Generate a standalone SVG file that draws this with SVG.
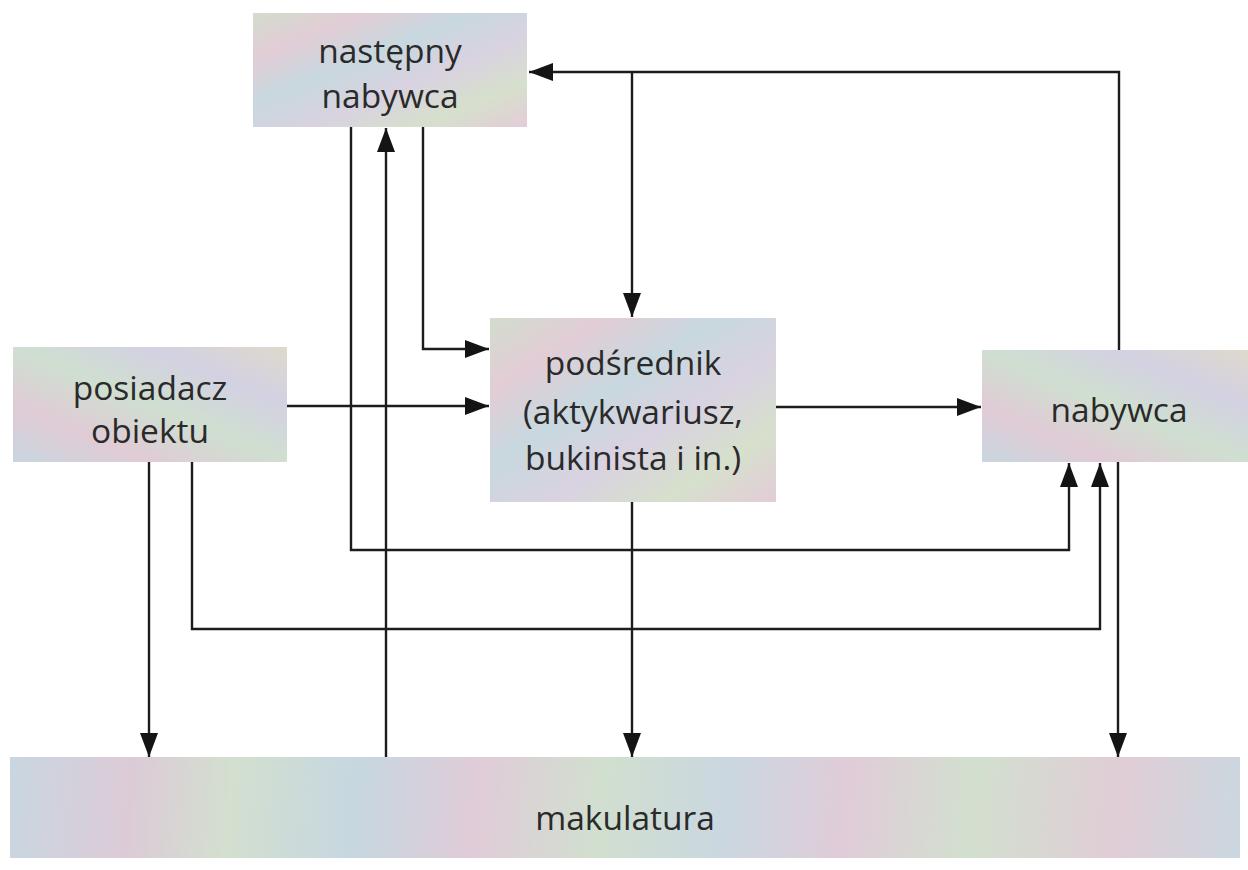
<svg xmlns="http://www.w3.org/2000/svg" width="1248" height="870" viewBox="0 0 1248 870">
<style>
.box{stroke:none}
.lbl{font-family:"Open Sans","Noto Sans","DejaVu Sans",sans-serif;font-size:33.5px;fill:#2a2a2a;text-anchor:middle}
.con{fill:none;stroke:#1c1c1c;stroke-width:2.4}
.arr{marker-end:url(#ah)}
</style>
<defs>
<marker id="ah" viewBox="0 0 24 18" refX="24" refY="9" markerWidth="24" markerHeight="18" markerUnits="userSpaceOnUse" orient="auto">
<path d="M0,0 L24,9 L0,18 Z" fill="#141414"/>
</marker>
<linearGradient id="g1" x1="0" y1="0" x2="1" y2="1">
<stop offset="0" stop-color="#d2dccd"/>
<stop offset="0.2" stop-color="#e2cdd6"/>
<stop offset="0.4" stop-color="#c8d8df"/>
<stop offset="0.6" stop-color="#d9d2e1"/>
<stop offset="0.8" stop-color="#d6e0cc"/>
<stop offset="1" stop-color="#e3ccd8"/>
</linearGradient>
<linearGradient id="g2" x1="0" y1="1" x2="1" y2="0">
<stop offset="0" stop-color="#c8d6df"/>
<stop offset="0.25" stop-color="#e0cbd6"/>
<stop offset="0.5" stop-color="#cfdfd0"/>
<stop offset="0.75" stop-color="#d3d1e2"/>
<stop offset="1" stop-color="#dfd9cc"/>
</linearGradient>
<linearGradient id="g3" gradientUnits="userSpaceOnUse" x1="10" y1="760" x2="1240" y2="860">
<stop offset="0" stop-color="#c9d6e0"/>
<stop offset="0.1" stop-color="#dccbd7"/>
<stop offset="0.18" stop-color="#d3dfcf"/>
<stop offset="0.28" stop-color="#c6d7e0"/>
<stop offset="0.38" stop-color="#e0ccd8"/>
<stop offset="0.48" stop-color="#d1dfcf"/>
<stop offset="0.58" stop-color="#cad7e0"/>
<stop offset="0.68" stop-color="#e0ccd8"/>
<stop offset="0.78" stop-color="#d2dfcf"/>
<stop offset="0.9" stop-color="#e0cdd6"/>
<stop offset="1" stop-color="#cbd7df"/>
</linearGradient>
</defs>
<g id="nastepny-nabywca">
<rect class="box" x="253" y="13" width="274" height="114" fill="url(#g1)"/>
<text class="lbl" x="390" y="63">następny</text>
<text class="lbl" x="390" y="108">nabywca</text>
</g>
<g id="posiadacz-obiektu">
<rect class="box" x="13" y="347" width="274" height="115" fill="url(#g2)"/>
<text class="lbl" x="150" y="400">posiadacz</text>
<text class="lbl" x="150" y="443">obiektu</text>
</g>
<g id="posrednik">
<rect class="box" x="490" y="318" width="286" height="184" fill="url(#g1)"/>
<text class="lbl" x="633" y="375">podśrednik</text>
<text class="lbl" x="633" y="424">(aktykwariusz,</text>
<text class="lbl" x="633" y="470">bukinista i in.)</text>
</g>
<g id="nabywca">
<rect class="box" x="982" y="350" width="266" height="112" fill="url(#g2)"/>
<text class="lbl" x="1119" y="422">nabywca</text>
</g>
<g id="makulatura">
<rect class="box" x="10" y="757" width="1230" height="101" fill="url(#g3)"/>
<text class="lbl" x="625" y="830">makulatura</text>
</g>
<g id="connectors">
<path class="con arr" d="M1119,350 V72 H529"/>
<path class="con arr" d="M632,72 V317"/>
<path class="con arr" d="M423,127 V349 H489"/>
<path class="con arr" d="M287,406 H489"/>
<path class="con arr" d="M776,407 H981"/>
<path class="con arr" d="M351,127 V550 H1069 V463"/>
<path class="con arr" d="M192,462 V629 H1100 V463"/>
<path class="con arr" d="M149,462 V757"/>
<path class="con arr" d="M386,757 V128"/>
<path class="con arr" d="M632,502 V757"/>
<path class="con arr" d="M1118,462 V757"/>
</g>
</svg>
